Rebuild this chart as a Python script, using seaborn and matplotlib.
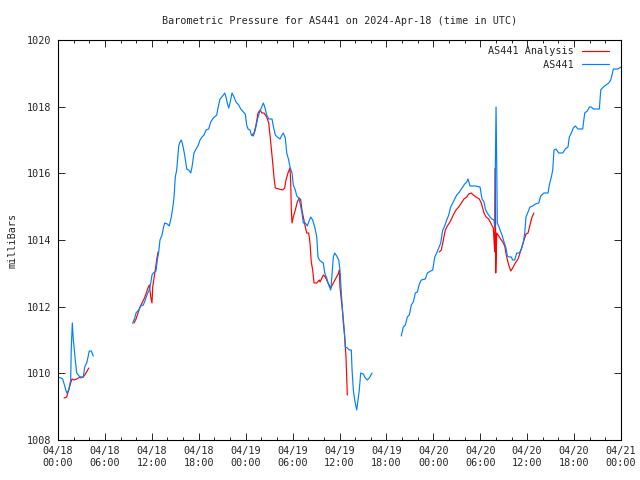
import numpy as np
import pandas as pd
import matplotlib
matplotlib.use('Agg')
import matplotlib.pyplot as plt
import matplotlib.dates as mdates
import seaborn as sns

### Dados: horas desde 2024-04-18 00:00 UTC e pressao (mb) ###

# AS441 (observado) - tres trechos
obs_h1 = [0.00, 0.38, 0.60, 0.86, 1.11, 1.37, 1.62, 1.70, 1.83, 1.96, 2.09, 2.21, 2.39, 2.60,
          2.90, 3.24, 3.41, 3.67, 3.84, 4.00, 4.26, 4.51]
obs_p1 = [1009.89, 1009.86, 1009.83, 1009.62, 1009.41, 1009.50, 1009.80, 1010.76, 1011.51, 1011.00,
          1010.70, 1010.40, 1010.01, 1009.95, 1009.86, 1009.89, 1010.19, 1010.31, 1010.49, 1010.67,
          1010.67, 1010.52]

obs_h2 = [9.55, 9.81, 9.98, 10.32, 10.58, 10.91, 11.16, 11.42, 11.68, 11.86, 12.02, 12.19, 12.53,
          12.70, 12.88, 13.04, 13.30, 13.47, 13.65, 13.98, 14.23, 14.49, 14.67, 14.84, 15.00, 15.18,
          15.44, 15.60, 15.77, 15.95, 16.20, 16.46, 16.72, 16.97, 17.14, 17.39, 17.65, 17.90, 18.16,
          18.42, 18.67, 18.93, 19.27, 19.53, 19.86, 20.30, 20.46, 20.72, 21.06, 21.32, 21.49, 21.65,
          21.83, 22.00, 22.25, 22.51, 22.76, 23.11, 23.37, 23.70, 23.95, 24.13, 24.30, 24.56, 24.72,
          24.98, 25.23, 25.49, 25.74, 26.00, 26.26, 26.44, 26.69, 26.95, 27.37, 27.53, 27.79, 28.05,
          28.39, 28.65, 28.81, 29.07, 29.25, 29.50, 29.67, 29.93, 30.09, 30.35, 30.53, 30.78, 30.95,
          31.20, 31.37, 31.63, 31.88, 32.06, 32.32, 32.57, 32.83, 33.09, 33.25, 33.42, 33.72, 33.93,
          34.11, 34.36, 34.62, 34.88, 35.04, 35.21, 35.39, 35.64, 35.90, 36.06, 36.23, 36.41, 36.58,
          36.74, 37.00, 37.25, 37.51, 37.60, 37.77, 37.94, 38.20, 38.37, 38.53, 38.71, 39.04, 39.30,
          39.56, 39.81, 40.16]
obs_p2 = [1011.50, 1011.66, 1011.81, 1011.90, 1012.02, 1012.05, 1012.20, 1012.38, 1012.50, 1012.71,
          1012.95, 1013.01, 1013.07, 1013.40, 1013.64, 1014.00, 1014.15, 1014.36, 1014.51, 1014.48,
          1014.42, 1014.69, 1014.96, 1015.29, 1015.89, 1016.10, 1016.82, 1016.94, 1017.00, 1016.85,
          1016.55, 1016.13, 1016.10, 1016.01, 1016.19, 1016.61, 1016.73, 1016.82, 1017.00, 1017.09,
          1017.15, 1017.30, 1017.33, 1017.54, 1017.66, 1017.75, 1017.96, 1018.23, 1018.32, 1018.41,
          1018.29, 1018.11, 1017.96, 1018.11, 1018.41, 1018.29, 1018.14, 1018.05, 1017.93, 1017.84,
          1017.78, 1017.45, 1017.33, 1017.30, 1017.15, 1017.12, 1017.30, 1017.60, 1017.81, 1017.96,
          1018.11, 1017.99, 1017.75, 1017.63, 1017.63, 1017.42, 1017.15, 1017.09, 1017.03, 1017.15,
          1017.21, 1017.06, 1016.61, 1016.40, 1016.19, 1016.01, 1015.65, 1015.50, 1015.32, 1015.26,
          1015.11, 1014.81, 1014.51, 1014.51, 1014.42, 1014.54, 1014.69, 1014.60, 1014.39, 1014.09,
          1013.49, 1013.40, 1013.34, 1013.31, 1013.01, 1012.86, 1012.65, 1012.50, 1012.95, 1013.49,
          1013.61, 1013.52, 1013.40, 1013.10, 1012.41, 1011.81, 1011.39, 1010.79, 1010.76, 1010.70,
          1010.70, 1010.13, 1009.50, 1009.20, 1008.90, 1009.20, 1009.50, 1010.01, 1009.98, 1009.86,
          1009.80, 1009.86, 1010.01]

obs_h3 = [43.90, 44.16, 44.42, 44.67, 44.93, 45.18, 45.44, 45.70, 45.95, 46.21, 46.46, 46.98, 47.23,
          47.66, 47.92, 48.18, 48.43, 48.69, 48.94, 49.20, 49.45, 49.71, 49.97, 50.22, 50.48, 50.73,
          50.99, 51.25, 51.50, 51.76, 52.01, 52.27, 52.44, 52.69, 53.37, 53.97, 54.23, 54.48, 54.65,
          54.90, 55.25, 55.50, 55.76, 55.85, 55.93, 56.02, 56.11, 56.18, 56.36, 56.53, 56.78, 57.04,
          57.29, 57.46, 57.72, 57.97, 58.15, 58.41, 58.66, 59.00, 59.25, 59.51, 59.69, 59.85, 60.11,
          60.36, 60.71, 61.04, 61.48, 61.73, 62.15, 62.67, 62.83, 63.09, 63.27, 63.43, 63.69, 64.03,
          64.55, 64.88, 65.22, 65.39, 65.65, 65.90, 66.16, 66.50, 67.10, 67.36, 67.69, 67.95, 68.20,
          68.46, 69.23, 69.41, 69.74, 70.08, 70.43, 70.68, 70.85, 71.02, 71.60, 72.00]
obs_p3 = [1011.12, 1011.39, 1011.45, 1011.69, 1011.75, 1012.05, 1012.14, 1012.41, 1012.44, 1012.68,
          1012.80, 1012.83, 1013.01, 1013.07, 1013.10, 1013.49, 1013.61, 1013.76, 1013.91, 1014.30,
          1014.42, 1014.60, 1014.75, 1014.99, 1015.11, 1015.23, 1015.35, 1015.41, 1015.50, 1015.59,
          1015.68, 1015.74, 1015.83, 1015.62, 1015.62, 1015.59, 1015.23, 1015.14, 1014.93, 1014.81,
          1014.69, 1014.63, 1014.60, 1014.39, 1016.19, 1017.99, 1016.19, 1014.51, 1014.42, 1014.30,
          1014.15, 1013.94, 1013.76, 1013.52, 1013.49, 1013.49, 1013.40, 1013.40, 1013.61, 1013.61,
          1013.73, 1013.94, 1014.21, 1014.69, 1014.84, 1014.99, 1015.02, 1015.08, 1015.11, 1015.32,
          1015.41, 1015.41, 1015.65, 1015.89, 1016.10, 1016.70, 1016.73, 1016.61, 1016.61, 1016.73,
          1016.79, 1017.09, 1017.21, 1017.36, 1017.42, 1017.33, 1017.33, 1017.81, 1017.87, 1017.99,
          1017.99, 1017.93, 1017.93, 1018.50, 1018.59, 1018.65, 1018.71, 1018.80, 1018.95, 1019.13,
          1019.13, 1019.19]

# AS441 Analysis - quatro trechos
ana_h1 = [0.77, 1.11, 1.37, 1.62, 1.79, 2.05, 2.39, 2.81, 3.24, 3.58, 3.93]
ana_p1 = [1009.26, 1009.29, 1009.50, 1009.71, 1009.83, 1009.80, 1009.83, 1009.89, 1009.89, 1010.01,
          1010.16]

ana_h2 = [9.72, 9.98, 10.23, 10.49, 10.74, 11.00, 11.25, 11.51, 11.68, 11.86, 12.02, 12.11, 12.28,
          12.44, 12.62, 12.79]
ana_p2 = [1011.51, 1011.63, 1011.81, 1011.99, 1012.11, 1012.23, 1012.38, 1012.56, 1012.65, 1012.29,
          1012.11, 1012.59, 1012.86, 1013.10, 1013.40, 1013.64]

ana_h3 = [24.81, 25.07, 25.32, 25.58, 25.84, 26.09, 26.35, 26.69, 26.95, 27.20, 27.46, 27.62, 27.79,
          28.23, 28.74, 28.99, 29.16, 29.41, 29.67, 29.76, 29.84, 29.93, 30.09, 30.35, 30.60, 30.86,
          31.04, 31.20, 31.37, 31.63, 31.81, 32.06, 32.23, 32.39, 32.57, 32.74, 33.09, 33.42, 33.51,
          33.93, 34.19, 34.53, 34.88, 35.21, 35.55, 35.90, 35.98, 36.06, 36.23, 36.41, 36.49, 36.67,
          36.83, 37.00]
ana_p3 = [1017.15, 1017.21, 1017.45, 1017.81, 1017.90, 1017.81, 1017.81, 1017.69, 1017.51, 1016.94,
          1016.31, 1015.89, 1015.56, 1015.53, 1015.50, 1015.56, 1015.80, 1016.01, 1016.16, 1015.71,
          1014.90, 1014.51, 1014.69, 1014.90, 1015.14, 1015.26, 1015.20, 1014.90, 1014.69, 1014.39,
          1014.21, 1014.21, 1013.91, 1013.34, 1013.10, 1012.71, 1012.71, 1012.80, 1012.74, 1012.95,
          1012.89, 1012.71, 1012.56, 1012.71, 1012.86, 1013.01, 1013.10, 1012.59, 1012.20, 1011.81,
          1011.51, 1011.09, 1010.49, 1009.35]

ana_h4 = [48.76, 49.02, 49.28, 49.53, 49.79, 50.13, 50.55, 50.90, 51.24, 51.58, 51.92, 52.27, 52.52,
          52.86, 53.11, 53.46, 53.88, 54.13, 54.48, 54.74, 55.08, 55.34, 55.67, 55.85, 55.93, 55.98,
          56.11, 56.36, 56.61, 56.87, 57.13, 57.38, 57.64, 57.90, 58.15, 58.48, 58.83, 59.08, 59.34,
          59.60, 59.85, 60.11, 60.36, 60.62, 60.87]
ana_p4 = [1013.64, 1013.70, 1014.00, 1014.30, 1014.42, 1014.54, 1014.75, 1014.90, 1014.99, 1015.11,
          1015.23, 1015.29, 1015.38, 1015.41, 1015.35, 1015.29, 1015.23, 1015.11, 1014.81, 1014.69,
          1014.63, 1014.51, 1014.36, 1013.64, 1016.16, 1013.01, 1014.21, 1014.12, 1014.03, 1013.94,
          1013.82, 1013.49, 1013.25, 1013.07, 1013.16, 1013.31, 1013.43, 1013.61, 1013.79, 1014.00,
          1014.18, 1014.21, 1014.45, 1014.69, 1014.81]

inicio = pd.Timestamp('2024-04-18 00:00')

# Montando a tabela longa (uma linha por ponto, com id de trecho)
trechos = [('AS441 Analysis', ana_h1, ana_p1), ('AS441 Analysis', ana_h2, ana_p2),
           ('AS441 Analysis', ana_h3, ana_p3), ('AS441 Analysis', ana_h4, ana_p4),
           ('AS441', obs_h1, obs_p1), ('AS441', obs_h2, obs_p2), ('AS441', obs_h3, obs_p3)]
partes = []
for i, (serie, horas, pressao) in enumerate(trechos):
    partes.append(pd.DataFrame({'Hora': inicio + pd.to_timedelta(horas, unit='h'),
                                'Pressao': pressao,
                                'Serie': serie,
                                'Trecho': i}))
df = pd.concat(partes, ignore_index=True)

### Grafico ###

sns.set_style('ticks')
plt.rcParams['font.family'] = ['DejaVu Sans Mono']
plt.rcParams['font.size'] = 7.3

fig = plt.figure(figsize=(6.4, 4.8), dpi=100)
ax = fig.add_axes([58/640, 40/480, 563/640, 400/480])

sns.lineplot(data=df, x='Hora', y='Pressao', hue='Serie', units='Trecho',
             estimator=None, sort=False, ax=ax,
             hue_order=['AS441 Analysis', 'AS441'],
             palette={'AS441 Analysis': '#ff0000', 'AS441': '#0080ff'},
             linewidth=0.85)

ax.set_xlim(inicio, inicio + pd.Timedelta(hours=72))
ax.set_ylim(1008, 1020)
ax.set_yticks(np.arange(1008, 1021, 2))
ax.xaxis.set_major_locator(mdates.HourLocator(byhour=range(0, 24, 6)))
ax.xaxis.set_minor_locator(mdates.HourLocator(byhour=range(0, 24, 2)))
ax.xaxis.set_major_formatter(mdates.DateFormatter('%m/%d\n%H:%M'))

ax.tick_params(which='major', direction='in', top=True, right=True, length=5, width=0.7,
               labelsize=7.3, pad=4.5)
ax.tick_params(which='minor', direction='in', top=True, right=False, length=2.5, width=0.7)
ax.tick_params(axis='y', which='minor', left=False, right=False)
for s in ax.spines.values():
    s.set_linewidth(0.8)
    s.set_color('black')

ax.set_xlabel('')
ax.set_ylabel('milliBars', fontsize=7.3, labelpad=7)
ax.set_title('Barometric Pressure for AS441 on 2024-Apr-18 (time in UTC)', fontsize=7.3, pad=11.5)

handles, labels = ax.get_legend_handles_labels()
ax.legend(handles, ['AS441 Analysis', '         AS441'], loc='upper right', frameon=False,
          bbox_to_anchor=(1 - 5/563, 1 + 1/400),
          markerfirst=False, handlelength=2.7, handletextpad=0.8, labelspacing=0.35,
          borderaxespad=0.3, fontsize=7.3)

fig.savefig('out.png', dpi=100)
